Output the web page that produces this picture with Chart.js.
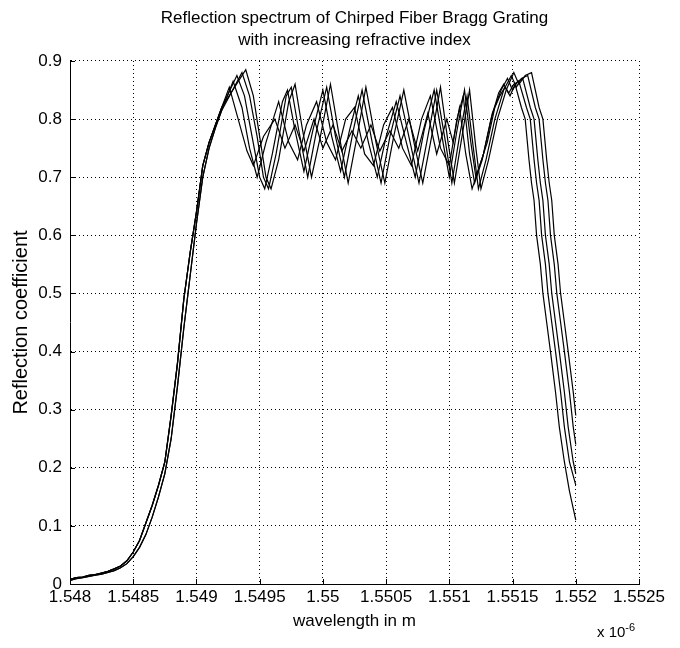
<!DOCTYPE html>
<html lang="en">
<head>
  <meta charset="UTF-8">
  <title>Reflection spectrum of Chirped Fiber Bragg Grating</title>
  <script src="https://cdn.jsdelivr.net/npm/chart.js"></script>
  <style>
    body { margin: 0; background: #fff; }
    .wrap { position: relative; width: 680px; height: 648px; }
    .exp {
      position: absolute; left: 597px; top: 621px;
      font: 15px "Liberation Sans", Arial, sans-serif;
      color: #000;
    }
    .exp sup { font-size: 11px; }
  </style>
</head>
<body>
  <div class="wrap">
    <canvas id="fbg" width="680" height="648"></canvas>
    <div class="exp">x 10<sup>-6</sup></div>
  </div>

  <script>
    // wavelength in units of 1e-6 m, reflection coefficient
    const xTicks = [1.548, 1.5485, 1.549, 1.5495, 1.55, 1.5505, 1.551, 1.5515, 1.552, 1.5525];
    const yTicks = [0, 0.1, 0.2, 0.3, 0.4, 0.5, 0.6, 0.7, 0.8, 0.9];

    // rising edge, the curves almost sit on top of each other here
    const riseWave = [1.548, 1.54805, 1.5481, 1.54815, 1.5482, 1.54825, 1.5483, 1.54835, 1.5484,
      1.54845, 1.5485, 1.54855, 1.5486, 1.54865, 1.5487, 1.54875, 1.5488, 1.54885, 1.5489,
      1.54895, 1.549, 1.54905, 1.5491, 1.54915, 1.5492];
    const riseA = [0.008, 0.011, 0.012, 0.015, 0.016, 0.019, 0.022, 0.026, 0.031, 0.04, 0.055,
      0.075, 0.105, 0.135, 0.17, 0.21, 0.29, 0.38, 0.49, 0.57, 0.64, 0.72, 0.76, 0.79, 0.82];
    const riseB = [0.006, 0.009, 0.011, 0.013, 0.015, 0.017, 0.02, 0.023, 0.028, 0.035, 0.047,
      0.063, 0.085, 0.115, 0.15, 0.19, 0.25, 0.34, 0.44, 0.53, 0.62, 0.70, 0.75, 0.785, 0.815];

    const curveA = [
      [1.54926, 0.855], [1.54933, 0.80], [1.5494, 0.745], [1.54945, 0.72], [1.54953, 0.77],
      [1.54962, 0.80], [1.5497, 0.75], [1.54978, 0.79], [1.54985, 0.745], [1.54993, 0.80],
      [1.55, 0.75], [1.55008, 0.79], [1.55015, 0.745], [1.55023, 0.78], [1.5503, 0.75],
      [1.55038, 0.79], [1.55045, 0.745], [1.55053, 0.78], [1.5506, 0.75], [1.55068, 0.80],
      [1.55075, 0.745], [1.55083, 0.81], [1.5509, 0.74], [1.55098, 0.80], [1.55103, 0.76],
      [1.55108, 0.82], [1.55113, 0.74], [1.55118, 0.68], [1.55124, 0.72], [1.5513, 0.76],
      [1.55136, 0.82], [1.5514, 0.84], [1.55144, 0.855], [1.55148, 0.84], [1.55152, 0.86],
      [1.55157, 0.82], [1.5516, 0.80], [1.55163, 0.73], [1.55165, 0.69], [1.55167, 0.66],
      [1.55169, 0.60], [1.55172, 0.55], [1.55174, 0.50], [1.55177, 0.45], [1.5518, 0.40],
      [1.55184, 0.33], [1.55187, 0.27], [1.55191, 0.21], [1.55195, 0.16], [1.552, 0.11]
    ];

    const curveB = [
      [1.54929, 0.865], [1.54936, 0.82], [1.54942, 0.75], [1.54948, 0.70], [1.54955, 0.76],
      [1.54965, 0.83], [1.54973, 0.76], [1.5498, 0.73], [1.54987, 0.79], [1.54995, 0.83],
      [1.55003, 0.76], [1.5501, 0.73], [1.55018, 0.80], [1.55025, 0.82], [1.55033, 0.74],
      [1.5504, 0.72], [1.55048, 0.79], [1.55055, 0.82], [1.55063, 0.75], [1.5507, 0.72],
      [1.55078, 0.80], [1.55085, 0.84], [1.55093, 0.75], [1.551, 0.72], [1.55106, 0.80],
      [1.55111, 0.84], [1.55116, 0.74], [1.5512, 0.69], [1.55126, 0.73], [1.55133, 0.80],
      [1.55139, 0.845], [1.55143, 0.86], [1.55147, 0.845], [1.55151, 0.86], [1.55155, 0.865],
      [1.55161, 0.82], [1.55164, 0.80], [1.55167, 0.73], [1.55169, 0.69], [1.55171, 0.66],
      [1.55173, 0.60], [1.55176, 0.55], [1.55178, 0.50], [1.55181, 0.45], [1.55184, 0.40],
      [1.55188, 0.33], [1.55191, 0.27], [1.55195, 0.21], [1.552, 0.17]
    ];

    const curveC = [
      [1.54932, 0.875], [1.54938, 0.84], [1.54944, 0.77], [1.5495, 0.70], [1.54954, 0.68],
      [1.5496, 0.74], [1.54968, 0.83], [1.54972, 0.85], [1.54978, 0.78], [1.54985, 0.71],
      [1.54992, 0.78], [1.55, 0.85], [1.55007, 0.77], [1.55014, 0.71], [1.55021, 0.78],
      [1.55028, 0.84], [1.55036, 0.76], [1.55043, 0.70], [1.5505, 0.77], [1.55058, 0.83],
      [1.55066, 0.76], [1.55073, 0.70], [1.5508, 0.78], [1.55088, 0.85], [1.55095, 0.76],
      [1.551, 0.70], [1.55106, 0.78], [1.55112, 0.85], [1.55117, 0.76], [1.55121, 0.70],
      [1.55127, 0.74], [1.55134, 0.81], [1.55141, 0.85], [1.55146, 0.87], [1.5515, 0.85],
      [1.55154, 0.865], [1.55158, 0.87], [1.55164, 0.82], [1.55167, 0.80], [1.5517, 0.73],
      [1.55172, 0.69], [1.55174, 0.66], [1.55176, 0.60], [1.55179, 0.55], [1.55181, 0.50],
      [1.55184, 0.45], [1.55187, 0.40], [1.55191, 0.33], [1.55194, 0.27], [1.55198, 0.21],
      [1.552, 0.19]
    ];

    const curveD = [
      [1.54936, 0.88], [1.54942, 0.84], [1.54948, 0.77], [1.54953, 0.70], [1.54957, 0.68],
      [1.54963, 0.74], [1.54971, 0.84], [1.54975, 0.855], [1.54981, 0.78], [1.54988, 0.70],
      [1.54995, 0.78], [1.55003, 0.855], [1.5501, 0.77], [1.55017, 0.70], [1.55024, 0.78],
      [1.55031, 0.85], [1.55039, 0.76], [1.55046, 0.69], [1.55053, 0.77], [1.55061, 0.84],
      [1.55069, 0.76], [1.55076, 0.69], [1.55083, 0.77], [1.5509, 0.85], [1.55097, 0.76],
      [1.55102, 0.69], [1.55108, 0.77], [1.55114, 0.84], [1.55119, 0.75], [1.55123, 0.68],
      [1.55129, 0.73], [1.55136, 0.80], [1.55143, 0.85], [1.55149, 0.875], [1.55153, 0.855],
      [1.55157, 0.87], [1.55162, 0.875], [1.55168, 0.82], [1.55171, 0.80], [1.55174, 0.73],
      [1.55176, 0.69], [1.55178, 0.66], [1.5518, 0.60], [1.55183, 0.55], [1.55185, 0.50],
      [1.55188, 0.45], [1.55191, 0.40], [1.55195, 0.33], [1.55198, 0.27], [1.552, 0.24]
    ];

    const curveE = [
      [1.54939, 0.885], [1.54945, 0.84], [1.5495, 0.77], [1.54955, 0.70], [1.54959, 0.68],
      [1.54965, 0.73], [1.54973, 0.83], [1.54978, 0.86], [1.54984, 0.78], [1.54991, 0.70],
      [1.54998, 0.77], [1.55006, 0.86], [1.55013, 0.77], [1.5502, 0.69], [1.55027, 0.77],
      [1.55034, 0.855], [1.55042, 0.76], [1.55049, 0.69], [1.55056, 0.77], [1.55064, 0.85],
      [1.55072, 0.76], [1.55079, 0.69], [1.55086, 0.77], [1.55093, 0.855], [1.55099, 0.76],
      [1.55104, 0.69], [1.5511, 0.77], [1.55116, 0.85], [1.55121, 0.75], [1.55125, 0.68],
      [1.55131, 0.73], [1.55138, 0.80], [1.55145, 0.85], [1.55151, 0.88], [1.55155, 0.86],
      [1.5516, 0.875], [1.55165, 0.88], [1.55171, 0.82], [1.55174, 0.80], [1.55177, 0.73],
      [1.55179, 0.69], [1.55181, 0.66], [1.55183, 0.60], [1.55186, 0.55], [1.55188, 0.50],
      [1.55191, 0.45], [1.55194, 0.40], [1.55198, 0.33], [1.552, 0.29]
    ];

    const curves = [
      { rise: riseA, rest: curveA },
      { rise: riseB, rest: curveB },
      { rise: riseA, rest: curveC },
      { rise: riseB, rest: curveD },
      { rise: riseA, rest: curveE }
    ];

    const fam = '"Liberation Sans", Arial, sans-serif';

    // MATLAB style ticks pointing into the plot
    const innerTicks = {
      id: "innerTicks",
      afterDraw(chart) {
        const { ctx, chartArea, scales } = chart;
        ctx.save();
        ctx.strokeStyle = "#000";
        ctx.lineWidth = 1;
        ctx.beginPath();
        scales.x.ticks.forEach(t => {
          const px = Math.round(scales.x.getPixelForValue(t.value)) + 0.5;
          ctx.moveTo(px, chartArea.bottom);
          ctx.lineTo(px, chartArea.bottom - 5);
        });
        scales.y.ticks.forEach(t => {
          const py = Math.round(scales.y.getPixelForValue(t.value)) + 0.5;
          ctx.moveTo(chartArea.left, py);
          ctx.lineTo(chartArea.left + 5, py);
        });
        ctx.stroke();
        ctx.restore();
      }
    };

    const ctx = document.getElementById("fbg").getContext("2d");
    new Chart(ctx, {
      type: "scatter",
      data: {
        datasets: curves.map(c => ({
          data: riseWave.map((w, i) => ({ x: w, y: c.rise[i] }))
            .concat(c.rest.map(p => ({ x: p[0], y: p[1] }))),
          showLine: true,
          borderColor: "#000",
          borderWidth: 1.2,
          pointRadius: 0,
          tension: 0
        }))
      },
      options: {
        responsive: false,
        animation: false,
        layout: { padding: { left: 0, right: 41, top: 0, bottom: 0 } },
        plugins: {
          legend: { display: false },
          tooltip: { enabled: false },
          title: {
            display: true,
            fullSize: false,
            text: ["Reflection spectrum of Chirped Fiber Bragg Grating", "with increasing refractive index"],
            color: "#000",
            font: { family: fam, size: 17, weight: "normal", lineHeight: 1.294 },
            padding: { top: 7, bottom: 10 }
          }
        },
        scales: {
          x: {
            type: "linear",
            min: xTicks[0],
            max: xTicks[xTicks.length - 1],
            afterBuildTicks: s => { s.ticks = xTicks.map(v => ({ value: v })); },
            afterFit: s => { s.height = 64; },
            ticks: {
              color: "#000",
              padding: 3,
              maxRotation: 0,
              autoSkip: false,
              font: { family: fam, size: 17 },
              callback: v => String(+v.toFixed(4))
            },
            grid: { color: "#000", drawTicks: false, lineWidth: 1 },
            border: { display: true, color: "#000", width: 1, dash: [1, 3] },
            title: {
              display: true,
              text: "wavelength in m",
              color: "#000",
              font: { family: fam, size: 17 },
              padding: { bottom: 16 }
            }
          },
          y: {
            min: yTicks[0],
            max: yTicks[yTicks.length - 1],
            afterBuildTicks: s => { s.ticks = yTicks.map(v => ({ value: v })); },
            afterFit: s => { s.width = 70; },
            ticks: {
              color: "#000",
              padding: 8,
              font: { family: fam, size: 17 },
              callback: v => String(+v.toFixed(1))
            },
            grid: { color: "#000", drawTicks: false, lineWidth: 1 },
            border: { display: true, color: "#000", width: 1, dash: [1, 3] },
            title: {
              display: true,
              text: "Reflection coefficient",
              color: "#000",
              font: { family: fam, size: 20 },
              padding: { top: 9 }
            }
          }
        }
      },
      plugins: [innerTicks]
    });
  </script>
</body>
</html>
